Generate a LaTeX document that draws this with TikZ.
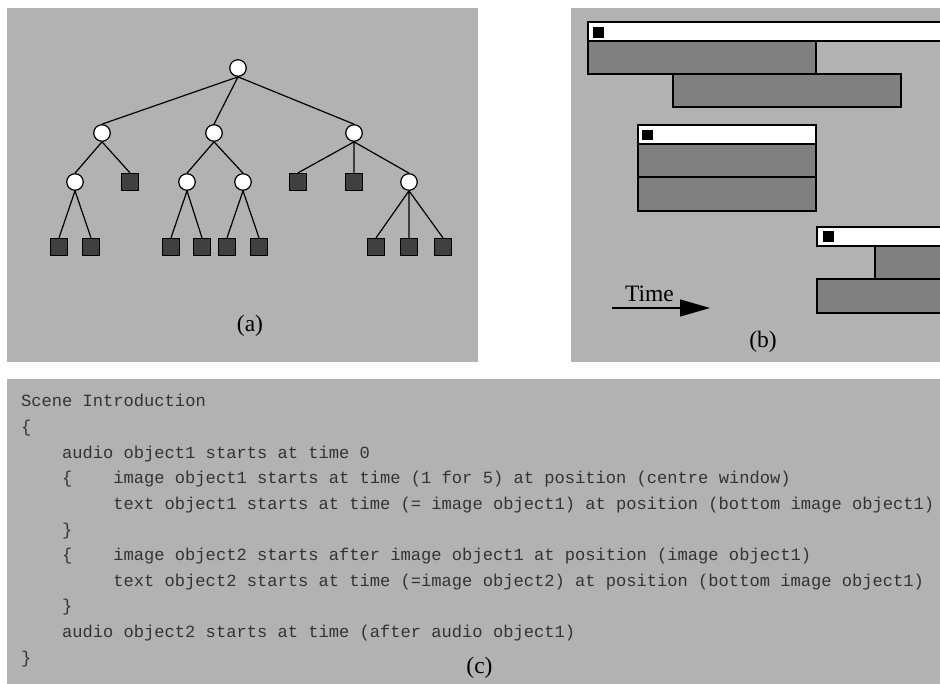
\documentclass[tikz,border=0pt]{standalone}
\usepackage{fontspec}
\setmainfont{Liberation Serif}
\newfontfamily\codefont{Liberation Mono}
\usetikzlibrary{arrows.meta}
\definecolor{panelgray}{gray}{0.70}
\definecolor{bargray}{gray}{0.50}
\definecolor{leafgray}{gray}{0.25}
\begin{document}
\begin{tikzpicture}[x=1pt, y=-1pt, line width=1.2pt,
        branch/.style={draw, circle, fill=white, minimum size=16.5pt, inner sep=0pt},
        leaf/.style={draw, rectangle, fill=leafgray, minimum size=17pt, inner sep=0pt},
        capt/.style={font=\fontsize{23.5}{27}\selectfont, anchor=base, inner sep=0pt},
        codeline/.style={font=\codefont\fontsize{17.1}{20}\selectfont, text=black!80, anchor=base west, inner sep=0pt},
        barbox/.style={draw, fill=bargray},
        headbox/.style={draw, fill=white},
        markbox/.style={fill=black}]
        \useasboundingbox (0,0) rectangle (940,684);
        \fill[white] (0,0) rectangle (940,684);
        \fill[panelgray] (7,8) rectangle (478,362);
        \fill[panelgray] (571,8) rectangle (940,362);
        \fill[panelgray] (7,379) rectangle (940,684);

        \node[branch] (r) at (238,68) {};
        \node[branch] (n1) at (102,133) {};
        \node[branch] (n2) at (214,133) {};
        \node[branch] (n3) at (354,133) {};
        \node[branch] (n11) at (75,182) {};
        \node[leaf] (l12) at (130,182) {};
        \node[branch] (n21) at (187,182) {};
        \node[branch] (n22) at (243,182) {};
        \node[leaf] (l31) at (298,182) {};
        \node[leaf] (l32) at (354,182) {};
        \node[branch] (n33) at (409,182) {};
        \node[leaf] (l111) at (59,247) {};
        \node[leaf] (l112) at (91,247) {};
        \node[leaf] (l211) at (171,247) {};
        \node[leaf] (l212) at (202,247) {};
        \node[leaf] (l221) at (227,247) {};
        \node[leaf] (l222) at (259,247) {};
        \node[leaf] (l331) at (376,247) {};
        \node[leaf] (l332) at (409,247) {};
        \node[leaf] (l333) at (443,247) {};
        \draw (r.south) -- (n1.north) (r.south) -- (n2.north) (r.south) -- (n3.north);
        \draw (n1.south) -- (n11.north) (n1.south) -- (l12.north);
        \draw (n2.south) -- (n21.north) (n2.south) -- (n22.north);
        \draw (n3.south) -- (l31.north) (n3.south) -- (l32.north) (n3.south) -- (n33.north);
        \draw (n11.south) -- (l111.north) (n11.south) -- (l112.north);
        \draw (n21.south) -- (l211.north) (n21.south) -- (l212.north);
        \draw (n22.south) -- (l221.north) (n22.south) -- (l222.north);
        \draw (n33.south) -- (l331.north) (n33.south) -- (l332.north) (n33.south) -- (l333.north);
        \node[capt] (capa) at (250,332) {(a)};

        \begin{scope}
            \clip (571,8) rectangle (940,362);
            \draw[headbox] (588,22) rectangle (946,41);
            \fill[markbox] (593,27) rectangle (604,38);
            \draw[barbox] (588,41) rectangle (816,74);
            \draw[barbox] (673,74) rectangle (901,107);

            \draw[headbox] (638,125) rectangle (816,144);
            \fill[markbox] (642,130) rectangle (653,140);
            \draw[barbox] (638,144) rectangle (816,177);
            \draw[barbox] (638,177) rectangle (816,211);

            \draw[headbox] (817,227) rectangle (946,246);
            \fill[markbox] (823,231) rectangle (834,242);
            \draw[barbox] (875,246) rectangle (946,279);
            \draw[barbox] (817,279) rectangle (946,313);
        \end{scope}
        \coordinate (ts) at (612,308);
        \coordinate (te) at (710,308);
        \draw[-{Triangle[length=30pt,width=17pt]}] (ts) -- (te);
        \node[capt] (time) at (649.5,302) {Time};
        \node[capt] (capb) at (763,348) {(b)};

        \node[codeline] (c0) at (20.5,407) {Scene Introduction};
        \node[codeline] (c1) at (20.5,432.6) {\{};
        \node[codeline] (c2) at (61.5,458.2) {audio object1 starts at time 0};
        \node[codeline] (c3a) at (61.5,483.8) {\{};
        \node[codeline] (c3) at (112.8,483.8) {image object1 starts at time (1 for 5) at position (centre window)};
        \node[codeline] (c4) at (112.8,509.4) {text object1 starts at time (= image object1) at position (bottom image object1)};
        \node[codeline] (c5) at (61.5,535) {\}};
        \node[codeline] (c6a) at (61.5,560.6) {\{};
        \node[codeline] (c6) at (112.8,560.6) {image object2 starts after image object1 at position (image object1)};
        \node[codeline] (c7) at (112.8,586.2) {text object2 starts at time (=image object2) at position (bottom image object1)};
        \node[codeline] (c8) at (61.5,611.8) {\}};
        \node[codeline] (c9) at (61.5,637.4) {audio object2 starts at time (after audio object1)};
        \node[codeline] (c10) at (20.5,663) {\}};
        \node[capt] (capc) at (479.5,673) {(c)};
    \end{tikzpicture}
\end{document}
